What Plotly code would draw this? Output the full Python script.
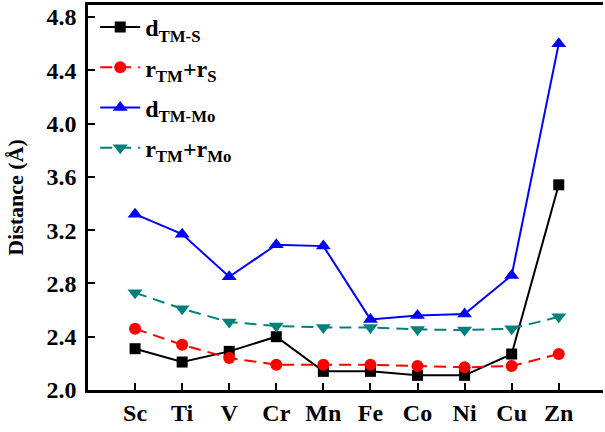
import plotly.graph_objects as go

metals = ["Sc", "Ti", "V", "Cr", "Mn", "Fe", "Co", "Ni", "Cu", "Zn"]
d_tm_s = [2.31, 2.21, 2.29, 2.40, 2.14, 2.14, 2.11, 2.11, 2.27, 3.54]
r_tm_r_s = [2.46, 2.34, 2.24, 2.19, 2.19, 2.19, 2.18, 2.17, 2.18, 2.27]
d_tm_mo = [3.32, 3.17, 2.85, 3.09, 3.08, 2.53, 2.56, 2.57, 2.86, 4.60]
r_tm_r_mo = [2.73, 2.61, 2.51, 2.48, 2.47, 2.47, 2.455, 2.45, 2.46, 2.55]
y_ticks = [2.0, 2.4, 2.8, 3.2, 3.6, 4.0, 4.4, 4.8]

x = list(range(len(metals)))
font = "Liberation Serif"
teal = "#00807a"

fig = go.Figure()
fig.add_trace(go.Scatter(x=x, y=d_tm_s, name="<b>d<sub>TM-S</sub></b>", mode="lines+markers",
                         legendgroup="a",
                         line=dict(color="black", width=2),
                         marker=dict(symbol="square", size=11, color="black")))
fig.add_trace(go.Scatter(x=x, y=r_tm_r_s, name="<b>r<sub>TM</sub>+r<sub>S</sub></b>", mode="lines+markers",
                         legendgroup="b",
                         line=dict(color="red", width=2, dash="12px,7px"),
                         marker=dict(symbol="circle", size=12, color="red")))
fig.add_trace(go.Scatter(x=x, y=d_tm_mo, name="<b>d<sub>TM-Mo</sub></b>", mode="lines+markers",
                         legendgroup="c",
                         line=dict(color="blue", width=2),
                         marker=dict(symbol="triangle-up", size=13, color="blue")))
fig.add_trace(go.Scatter(x=x, y=r_tm_r_mo, name="<b>r<sub>TM</sub>+r<sub>Mo</sub></b>", mode="lines+markers",
                         legendgroup="d",
                         line=dict(color=teal, width=2, dash="12px,7px"),
                         marker=dict(symbol="triangle-down", size=13, color=teal)))

fig.update_layout(
    width=605, height=432,
    margin=dict(l=88, r=2, t=3, b=42),
    paper_bgcolor="white", plot_bgcolor="white",
    font=dict(family=font, size=22, color="black"),
    legend=dict(x=0.014, y=1.0, xanchor="left", yanchor="top",
                bgcolor="rgba(0,0,0,0)", font=dict(family=font, size=24),
                itemwidth=40, tracegroupgap=6),
    showlegend=True,
)
fig.update_xaxes(range=[-1.0, 9.94], tickmode="array", tickvals=x, ticktext=[f"<b>{m}</b>" for m in metals],
                 ticks="inside", ticklen=7, tickwidth=2, tickcolor="black",
                 showline=True, linewidth=2.5, linecolor="black", mirror=True,
                 showgrid=False, zeroline=False, tickfont=dict(family=font, size=24),
                 ticklabelstandoff=-1)
fig.update_yaxes(range=[2.0, 4.89], tickmode="array", tickvals=y_ticks,
                 ticktext=[f"<b>{v:.1f}</b>" for v in y_ticks],
                 ticks="inside", ticklen=7, tickwidth=2, tickcolor="black",
                 showline=True, linewidth=2.5, linecolor="black", mirror=False,
                 showgrid=False, zeroline=False, tickfont=dict(family=font, size=24),
                 ticklabelstandoff=4,
                 title=dict(text="<b>Distance (Å)</b>", font=dict(family=font, size=22), standoff=17))

fig.write_html("out.html", config={"displayModeBar": False},
               post_script="document.body.style.margin='0';document.body.style.overflow='hidden';")
